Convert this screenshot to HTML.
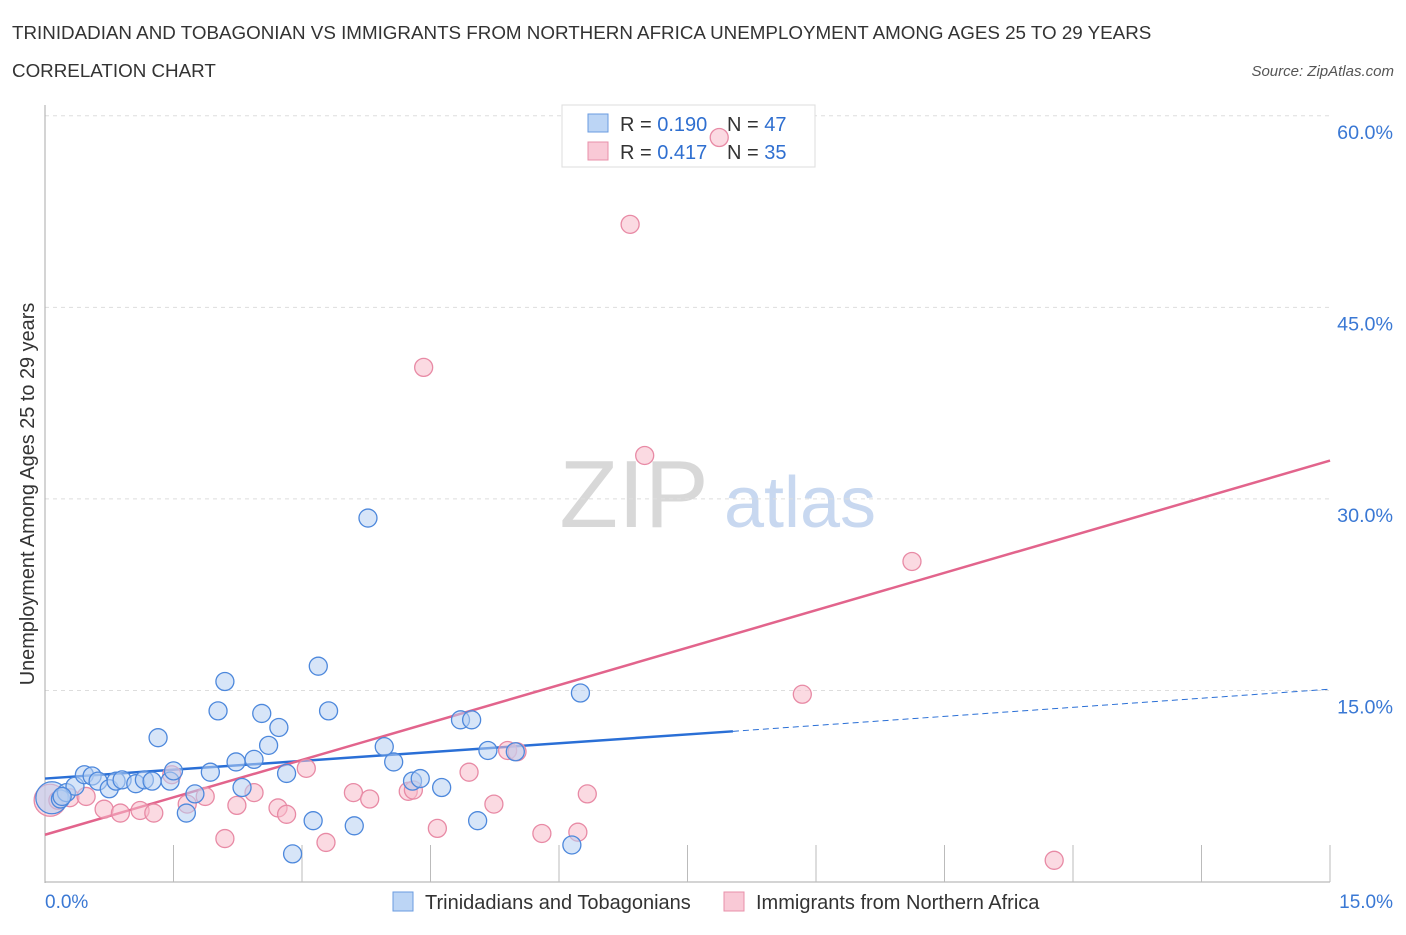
<!DOCTYPE html>
<html><head><meta charset="utf-8"><style>
body{margin:0;background:#fff;font-family:"Liberation Sans",sans-serif;}
svg text{font-family:"Liberation Sans",sans-serif;}
</style></head><body>
<svg id="chart" width="1406" height="930">
<text x="12" y="39" font-size="18.8" fill="#333">TRINIDADIAN AND TOBAGONIAN VS IMMIGRANTS FROM NORTHERN AFRICA UNEMPLOYMENT AMONG AGES 25 TO 29 YEARS</text>
<text x="12" y="77" font-size="18.8" fill="#333">CORRELATION CHART</text>
<text x="1394" y="76" font-size="15" fill="#555" font-style="italic" text-anchor="end">Source: ZipAtlas.com</text>
<text x="634" y="527" font-size="96" fill="#d8d8d8" font-family="Liberation Serif" text-anchor="middle">ZIP</text>
<text x="800" y="527" font-size="72" fill="#c8d8f0" text-anchor="middle">atlas</text>
<text transform="translate(34,494) rotate(-90)" font-size="19.9" fill="#333" text-anchor="middle">Unemployment Among Ages 25 to 29 years</text>
<g id="grid"></g><g id="axes"></g>
<g>
<rect x="562" y="105" width="253" height="62" fill="#fff" stroke="#ddd"/>
<rect x="588" y="114" width="20" height="18" fill="#bcd5f5" stroke="#6a9be0"/>
<rect x="588" y="142" width="20" height="18" fill="#f9c9d6" stroke="#e890aa"/>
<text x="620" y="131" font-size="20" fill="#333">R = <tspan fill="#2f6fd0">0.190</tspan></text>
<text x="727" y="131" font-size="20" fill="#333">N = <tspan fill="#2f6fd0">47</tspan></text>
<text x="620" y="159" font-size="20" fill="#333">R = <tspan fill="#2f6fd0">0.417</tspan></text>
<text x="727" y="159" font-size="20" fill="#333">N = <tspan fill="#2f6fd0">35</tspan></text>
</g>
<g id="lines"></g><g id="pts"></g>
<g>
<rect x="393" y="892" width="20" height="19" fill="#bcd5f5" stroke="#6a9be0"/>
<text x="425" y="909" font-size="20" fill="#333">Trinidadians and Tobagonians</text>
<rect x="724" y="892" width="20" height="19" fill="#f9c9d6" stroke="#e890aa"/>
<text x="756" y="909" font-size="20" fill="#333">Immigrants from Northern Africa</text>
</g>
</svg>
<script>
const yTicks=[15,30,45,60];
const yTickLabels=["15.0%","30.0%","45.0%","60.0%"];
const xTickLabels=["0.0%","15.0%"];
const blueX=[0.08,0.18,0.25,0.35,0.46,0.55,0.62,0.75,0.83,0.9,1.06,1.16,1.25,1.32,1.46,1.5,1.65,1.75,1.93,2.02,2.1,2.23,2.3,2.44,2.53,2.61,2.73,2.82,2.89,3.13,3.19,3.31,3.61,3.77,3.96,4.07,4.29,4.38,4.63,4.85,4.98,5.05,5.17,5.49,6.15,6.25,0.2];
const blueY=[6.6,6.5,7.0,7.5,8.4,8.3,7.9,7.3,7.9,8.0,7.7,8.0,7.9,11.3,7.9,8.7,5.4,6.9,8.6,13.4,15.7,9.4,7.4,9.6,13.2,10.7,12.1,8.5,2.2,4.8,16.9,13.4,4.4,28.5,10.6,9.4,7.9,8.1,7.4,12.7,12.7,4.8,10.3,10.2,2.9,14.8,6.7];
const pinkX=[0.06,0.15,0.29,0.48,0.69,0.88,1.11,1.27,1.48,1.66,1.87,2.1,2.24,2.44,2.72,2.82,3.05,3.28,3.6,3.79,4.24,4.3,4.58,4.42,4.95,5.24,5.4,5.51,5.8,6.22,6.33,6.83,7.0,7.87,8.84,10.12,11.78];
const pinkY=[6.4,6.4,6.6,6.7,5.7,5.4,5.6,5.4,8.4,6.1,6.7,3.4,6.0,7.0,5.8,5.3,8.9,3.1,7.0,6.5,7.1,7.2,4.2,40.3,8.6,6.1,10.3,10.2,3.8,3.9,6.9,51.5,33.4,58.3,14.7,25.1,1.7];
const blueTrend=[[0,8.1],[8.03,11.8],[15,15.1]];
const pinkTrend=[[0,3.7],[15,33.0]];
const X=v=>45+v*85.67, Y=v=>882-v*12.77;
const NS="http://www.w3.org/2000/svg";
function mk(p,t,a){const e=document.createElementNS(NS,t);for(const k in a)e.setAttribute(k,a[k]);document.getElementById(p).appendChild(e);return e;}
yTicks.forEach((t,i)=>{
 const g=mk('grid','line',{x1:45,x2:1330,y1:Y(t),y2:Y(t),stroke:'#ddd','stroke-dasharray':'4,4'});
 
 
 const l=mk('grid','text',{x:1393,y:Y(t)+23,'font-size':19.7,fill:'#3a78d4','text-anchor':'end'});
 l.textContent=yTickLabels[i];
 
 
});
const ax=mk('axes','line',{x1:45,x2:45,y1:105,y2:883,stroke:'#aaa'});


const bx=mk('axes','line',{x1:45,x2:1330,y1:882,y2:882,stroke:'#aaa'});


for(let i=1;i<=10;i++){const t=mk('axes','line',{x1:45+i*128.5,x2:45+i*128.5,y1:845,y2:882,stroke:'#bbb'});
 
 }
[[0,'start',45],[1,'end',1393]].forEach(([i,a,x])=>{const t=mk('axes','text',{x:x,y:908,'font-size':19,fill:'#3a78d4','text-anchor':a});t.textContent=xTickLabels[i];
 
 });
function dots(xs,ys,fill,stroke,name){xs.forEach((x,i)=>{const r=(i===0)?16:9;const c=mk('pts','circle',{cx:X(x),cy:Y(ys[i]),r:r,fill:fill,'fill-opacity':0.55,stroke:stroke,'stroke-width':1.3});
 
 });}
dots(pinkX,pinkY,'#f7bccb','#e88aa5','pink-point');
dots(blueX,blueY,'#b7d0f2','#4d88dc','blue-point');
let l1=mk('lines','line',{x1:X(blueTrend[0][0]),y1:Y(blueTrend[0][1]),x2:X(blueTrend[1][0]),y2:Y(blueTrend[1][1]),stroke:'#2a6fd6','stroke-width':2.5});


let l2=mk('lines','line',{x1:X(blueTrend[1][0]),y1:Y(blueTrend[1][1]),x2:X(blueTrend[2][0]),y2:Y(blueTrend[2][1]),stroke:'#2a6fd6','stroke-width':1,'stroke-dasharray':'6,4'});


let l3=mk('lines','line',{x1:X(pinkTrend[0][0]),y1:Y(pinkTrend[0][1]),x2:X(pinkTrend[1][0]),y2:Y(pinkTrend[1][1]),stroke:'#e2648c','stroke-width':2.5});


</script>
</body></html>
